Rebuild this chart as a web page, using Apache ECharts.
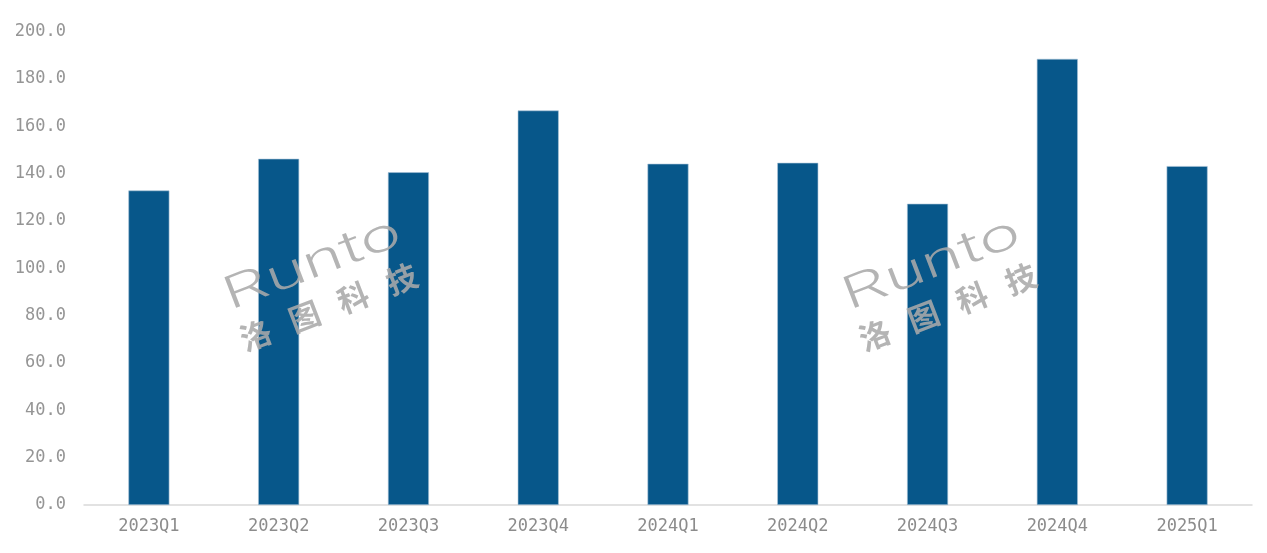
<!DOCTYPE html>
<html>
<head>
<meta charset="utf-8">
<script src="https://cdn.jsdelivr.net/npm/echarts@6/dist/echarts.min.js"></script>
<style>
html,body{margin:0;padding:0;background:#fff;}
#chart{width:1267px;height:553px;}
</style>
</head>
<body>
<div id="chart"></div>
<script>
var categories = ['2023Q1','2023Q2','2023Q3','2023Q4','2024Q1','2024Q2','2024Q3','2024Q4','2025Q1'];
var values = [132.9, 146.3, 140.6, 166.7, 144.2, 144.6, 127.3, 188.5, 143.2];
var yTicks = {min: 0, max: 200, interval: 20};

function watermark(cx, cy) {
  return {
    type: 'group',
    x: cx, y: cy,
    rotation: 21 * Math.PI / 180,
    silent: true,
    z: 100,
    children: [
      {
        type: 'text',
        x: 0, y: 0,
        z: 100,
        scaleX: 1.55, scaleY: 1,
        style: {
          text: 'Runto',
          font: '300 46px Roboto',
          fill: 'rgba(170,170,170,0.88)',
          align: 'center',
          verticalAlign: 'middle'
        }
      },
      {
        type: 'text',
        x: 0, y: 44,
        z: 100,
        style: {
          text: '洛   图   科   技',
          font: 'bold 31px "Noto Sans CJK SC"',
          fill: 'rgba(170,170,170,0.88)',
          align: 'center',
          verticalAlign: 'middle'
        }
      }
    ]
  };
}

var chart = echarts.init(document.getElementById('chart'));
chart.setOption({
  animation: false,
  backgroundColor: '#ffffff',
  grid: {left: 84, right: 15, top: 31.7, bottom: 48, containLabel: false},
  xAxis: {
    type: 'category',
    data: categories,
    axisLine: {show: true, lineStyle: {color: '#d9d9d9', width: 1.5}},
    axisTick: {show: false},
    axisLabel: {color: '#8c8c8c', fontSize: 17, fontFamily: '"DejaVu Sans Mono"', margin: 13}
  },
  yAxis: {
    type: 'value',
    min: yTicks.min, max: yTicks.max, interval: yTicks.interval,
    axisLine: {show: false},
    axisTick: {show: false},
    splitLine: {show: false},
    axisLabel: {
      color: '#959595', fontSize: 17, fontFamily: '"DejaVu Sans Mono"', margin: 18,
      formatter: function (v) { return v.toFixed(1); }
    }
  },
  series: [{
    type: 'bar',
    data: values,
    barWidth: 41,
    z: 2,
    itemStyle: {color: '#07578a', borderColor: '#a9c3d6', borderWidth: 0.6}
  }],
  graphic: {elements: [watermark(313, 266), watermark(932, 266)]}
});
</script>
</body>
</html>
